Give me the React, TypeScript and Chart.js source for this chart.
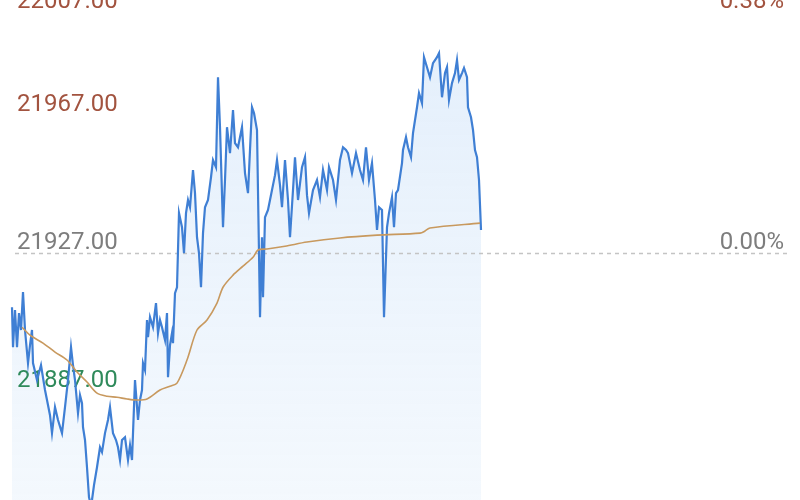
import React, { useEffect, useRef } from "react";
import { Chart, registerables } from "chart.js";

Chart.register(...registerables);

// Minute index (time axis) of each traced price point
const priceMinutes = [
  2, 3, 5, 7, 9, 11, 13, 15, 18, 20, 22, 23, 27, 31, 35, 37, 40, 42, 45, 48,
  52, 55, 58, 61, 63, 65, 68, 70, 72, 73, 75, 77, 79, 81, 82, 84, 87, 90, 92, 95,
  98, 100, 103, 106, 108, 110, 112, 115, 118, 120, 122, 125, 128, 130, 132, 133, 135, 137, 138, 140,
  143, 146, 148, 150, 152, 155, 157, 158, 160, 162, 163, 165, 167, 169, 172, 174, 176, 178, 180, 183,
  185, 187, 189, 191, 193, 195, 198, 201, 203, 206, 208, 210, 213, 215, 217, 220, 223, 225, 228, 232,
  235, 238, 240, 242, 244, 247, 249, 250, 252, 253, 255, 258, 260, 262, 265, 267, 270, 272, 275, 278,
  280, 283, 285, 288, 292, 295, 297, 299, 303, 307, 310, 313, 317, 319, 323, 326, 330, 333, 336, 338,
  342, 346, 350, 353, 356, 359, 362, 365, 367, 369, 372, 374, 377, 379, 382, 384, 386, 388, 392, 393,
  396, 398, 401, 403, 407, 409, 412, 414, 417, 420, 423, 427, 429, 432, 435, 437, 439, 442, 445, 447,
  449, 452, 454, 457, 458, 461, 463, 465, 467, 469, 471,
];

const prices = [
  21911.3, 21899.7, 21910.5, 21899.7, 21909.6, 21904.7, 21915.7, 21904.7, 21895.1, 21900.3,
  21904.7, 21895.1, 21890.2, 21894.5, 21887.3, 21884.4, 21880.0, 21874.8, 21882.3, 21878.6,
  21874.8, 21882.3, 21890.2, 21899.7, 21894.5, 21890.2, 21880.6, 21885.8, 21883.5, 21876.5,
  21872.8, 21864.9, 21856.2, 21853.9, 21855.4, 21859.7, 21864.9, 21870.7, 21869.3, 21874.8,
  21878.6, 21882.3, 21874.8, 21872.8, 21870.7, 21867.0, 21872.8, 21873.6, 21867.0, 21871.3,
  21867.0, 21890.2, 21878.6, 21884.4, 21887.3, 21895.1, 21893.1, 21907.6, 21902.6, 21908.4,
  21905.5, 21912.5, 21903.8, 21907.6, 21905.5, 21901.8, 21909.6, 21891.0, 21900.3, 21903.8,
  21900.9, 21915.4, 21917.1, 21938.6, 21934.5, 21927.0, 21938.6, 21942.4, 21940.3, 21951.1,
  21944.4, 21931.6, 21927.0, 21917.1, 21932.8, 21940.3, 21942.4, 21949.0, 21954.0, 21951.9,
  21978.0, 21963.5, 21934.5, 21948.2, 21963.5, 21956.0, 21968.5, 21958.9, 21957.7, 21963.5,
  21950.2, 21944.4, 21956.9, 21969.3, 21967.6, 21962.7, 21927.0, 21908.4, 21931.6, 21914.2,
  21937.4, 21939.5, 21942.4, 21945.3, 21949.6, 21954.0, 21946.7, 21940.3, 21954.0, 21942.4,
  21931.6, 21945.3, 21954.8, 21942.4, 21951.9, 21954.8, 21943.8, 21938.6, 21945.3, 21948.2,
  21943.2, 21951.1, 21945.3, 21951.9, 21948.2, 21942.4, 21954.0, 21957.7, 21956.9, 21956.0,
  21950.2, 21956.0, 21951.1, 21948.2, 21957.7, 21948.2, 21953.1, 21942.4, 21933.7, 21940.3,
  21939.5, 21908.4, 21934.5, 21938.6, 21943.2, 21934.5, 21944.4, 21945.3, 21953.1, 21956.9,
  21960.6, 21957.7, 21954.8, 21961.8, 21969.3, 21973.4, 21970.5, 21983.8, 21980.9, 21978.0,
  21982.1, 21983.8, 21985.0, 21972.2, 21979.2, 21980.9, 21971.4, 21976.3, 21979.2, 21983.0,
  21977.2, 21979.2, 21980.7, 21978.0, 21969.3, 21966.4, 21962.7, 21956.9, 21954.8, 21948.2,
  21933.7,
];

const avgMinutes = [
  12, 20, 33, 45, 57, 67, 77, 87, 97, 107, 117, 127, 137, 150, 160, 167, 177, 187, 197, 207,
  213, 223, 233, 243, 248, 257, 275, 297, 330, 367, 410, 415, 420, 470,
];

const avgPrices = [
  21905.5, 21903.2, 21900.9, 21898.3, 21896.0, 21892.5, 21889.6, 21886.4, 21885.5, 21885.2,
  21884.7, 21884.4, 21884.7, 21887.3, 21888.4, 21889.3, 21896.0, 21904.7, 21907.6, 21912.5,
  21917.1, 21920.6, 21923.2, 21925.8, 21927.9, 21928.2, 21929.0, 21930.2, 21931.4, 21932.2,
  21932.8, 21933.4, 21934.3, 21935.7,
];

const preClose = 21927;
const leftTickValues = [22007, 21967, 21927, 21887];
const leftTickLabels = ["22007.00", "21967.00", "21927.00", "21887.00"];
const rightTickValues = [22007, 21927];
const rightTickLabels = ["0.38%", "0.00%"];

const upColor = "#a2533f";
const flatColor = "#7d7d7d";
const downColor = "#2f8a5b";

function colorFor(v: number) {
  if (v > preClose) return upColor;
  if (v < preClose) return downColor;
  return flatColor;
}

const overlayPlugin = {
  id: "overlay",
  beforeDatasetsDraw(chart: any) {
    const { ctx, chartArea, scales } = chart;
    const y = scales.y;
    ctx.save();
    const py = Math.round(y.getPixelForValue(preClose)) + 0.5;
    ctx.strokeStyle = "#c4c4c4";
    ctx.lineWidth = 1.5;
    ctx.setLineDash([4, 4]);
    ctx.beginPath();
    ctx.moveTo(chartArea.left + 15, py);
    ctx.lineTo(chartArea.right - 13, py);
    ctx.stroke();
    ctx.setLineDash([]);

    ctx.font = "24px Roboto, 'Noto Sans', sans-serif";
    ctx.textBaseline = "alphabetic";
    leftTickValues.forEach((v, i) => {
      const p = y.getPixelForValue(v);
      const by = Math.max(p - 4, 8);
      ctx.fillStyle = colorFor(v);
      ctx.textAlign = "left";
      ctx.fillText(leftTickLabels[i], chartArea.left + 17, by);
    });
    rightTickValues.forEach((v, i) => {
      const p = y.getPixelForValue(v);
      const by = Math.max(p - 4, 8);
      ctx.fillStyle = colorFor(v);
      ctx.textAlign = "right";
      ctx.fillText(rightTickLabels[i], chartArea.right - 16, by);
    });
    ctx.restore();
  },
};

export default function App() {
  const canvasRef = useRef<HTMLCanvasElement | null>(null);

  useEffect(() => {
    document.body.style.margin = "0";
    document.body.style.background = "#ffffff";
    const canvas = canvasRef.current;
    if (!canvas) return;

    const priceData = priceMinutes.map((m, i) => ({ x: m, y: prices[i] }));
    const avgData = avgMinutes.map((m, i) => ({ x: m, y: avgPrices[i] }));

    const chart = new Chart(canvas, {
      type: "line",
      data: {
        datasets: [
          {
            label: "均价",
            data: avgData,
            borderColor: "#c8995e",
            borderWidth: 1.6,
            pointRadius: 0,
            fill: false,
            tension: 0.3,
          },
          {
            label: "价格",
            data: priceData,
            borderColor: "#3f7fd4",
            borderWidth: 2.2,
            pointRadius: 0,
            tension: 0,
            fill: "start",
            backgroundColor: (c: any) => {
              const area = c.chart.chartArea;
              if (!area) return "rgba(220,234,250,0.6)";
              const g = c.chart.ctx.createLinearGradient(0, area.top, 0, area.bottom);
              g.addColorStop(0, "rgba(214,231,250,0.7)");
              g.addColorStop(1, "rgba(234,243,252,0.55)");
              return g;
            },
          },
        ],
      },
      options: {
        animation: false,
        responsive: false,
        layout: { padding: 0 },
        plugins: {
          legend: { display: false },
          tooltip: { enabled: false },
          filler: { drawTime: "beforeDatasetsDraw" },
        },
        scales: {
          x: { type: "linear", min: -10, max: 790, display: false },
          y: { type: "linear", min: 21855.4, max: 22000.4, display: false },
        },
      },
      plugins: [overlayPlugin],
    });

    return () => chart.destroy();
  }, []);

  return (
    <div style={{ width: 800, height: 500, background: "#fff" }}>
      <canvas ref={canvasRef} width={800} height={500} style={{ display: "block" }} />
    </div>
  );
}
